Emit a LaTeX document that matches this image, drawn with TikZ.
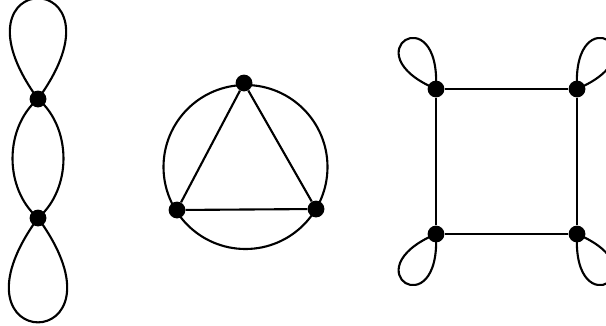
\documentclass[tikz,border=0pt]{standalone}
\usepackage{tikz}
\tikzset{
  vtx/.style = {circle,fill=black,inner sep=0pt,minimum size=4.2mm},
  edg/.style = {line width=1.5pt},
}
\begin{document}
\begin{tikzpicture}[x=0.025cm,y=0.025cm]
  \useasboundingbox (0,0) rectangle (606,325);
  % Left graph: two vertices, double edge, two loops
  \node[vtx] (l1) at (38,226) {};
  \node[vtx] (l2) at (38,107) {};
  \draw[edg] (l1.center) .. controls +(126:166) and +(54:166) .. (l1.center);
  \draw[edg] (l2.center) .. controls +(-126:172) and +(-54:172) .. (l2.center);
  \draw[edg] (l1.center) arc[start angle=124.3, end angle=235.7,
                             x radius=58.4, y radius=72];
  \draw[edg] (l1.center) arc[start angle=55.7, end angle=-55.7,
                             x radius=58.4, y radius=72];
  % Middle graph: triangle inside a circle
  \coordinate (c0) at (245.5,158);
  \draw[edg] (c0) circle (82);
  \node[vtx] (m1) at (244,242) {};
  \node[vtx] (m2) at (177,115) {};
  \node[vtx] (m3) at (316,116) {};
  \draw[edg] (m1) -- (m2) -- (m3) -- (m1);
  % Right graph: square with a loop at each corner
  \foreach \n/\x/\y/\a in {r1/436/236/122, r2/577/236/58,
                          r3/577/91/-58, r4/436/91/-122}{
    \node[vtx] (\n) at (\x,\y) {};
    \draw[edg] (\n.center) .. controls +({\a+35}:94) and +({\a-35}:94)
               .. (\n.center);
  }
  \draw[edg] (r1) -- (r2) -- (r3) -- (r4) -- (r1);
\end{tikzpicture}
\end{document}
